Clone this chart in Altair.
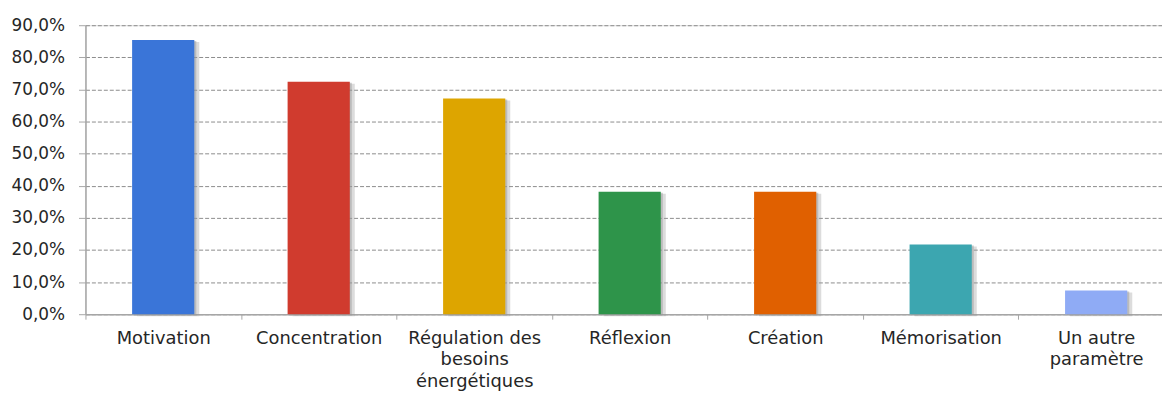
import altair as alt
import pandas as pd

categories = ["Motivation", "Concentration", "Régulation des besoins énergétiques",
              "Réflexion", "Création", "Mémorisation", "Un autre paramètre"]
values = [0.854, 0.724, 0.672, 0.381, 0.381, 0.217, 0.074]
colors = ["#3A75D8", "#D03B2E", "#DDA500", "#2E944A", "#E06000", "#3CA6B0", "#8FABF5"]
y_ticks = [0.0, 0.1, 0.2, 0.3, 0.4, 0.5, 0.6, 0.7, 0.8, 0.9]

df = pd.DataFrame({"cat": categories, "val": values, "col": colors})

label_expr = (
    "datum.label == 'Régulation des besoins énergétiques' ? ['Régulation des', 'besoins', 'énergétiques'] : "
    "datum.label == 'Un autre paramètre' ? ['Un autre', 'paramètre'] : datum.label"
)

x_enc = alt.X(
    "cat:N", sort=categories, title=None,
    scale=alt.Scale(range=[0, 1096], paddingInner=0, paddingOuter=0),
    axis=alt.Axis(
        labelAngle=0, labelFont="DejaVu Sans", labelFontSize=18, labelColor="#262626",
        labelExpr=label_expr, labelLineHeight=22, labelPadding=10, labelBaseline="top",
        tickBand="extent", tickSize=5, tickColor="#A6A6A6", domainColor="#A6A6A6",
        domainWidth=1.5, grid=False, labelLimit=300,
    ),
)
y_enc = alt.Y(
    "val:Q", title=None,
    scale=alt.Scale(domain=[0, 0.9], nice=False),
    axis=alt.Axis(
        values=y_ticks, labelExpr="replace(format(datum.value, '.1%'), '.', ',')",
        labelFont="DejaVu Sans", labelFontSize=17, labelColor="#262626",
        labelPadding=14, tickSize=7, tickColor="#A6A6A6", domainColor="#A6A6A6",
        domainWidth=1.5, grid=True, gridColor="#8C8C8C", gridDash=[4, 2], gridWidth=1,
    ),
)

base = alt.Chart(df)
shadow1 = base.mark_bar(width=alt.RelativeBandSize(0.4), color="#9A9A9A", opacity=0.35,
                        xOffset=5, yOffset=2).encode(x=x_enc, y=y_enc)
shadow2 = base.mark_bar(width=alt.RelativeBandSize(0.4), color="#9A9A9A", opacity=0.5,
                        xOffset=2, yOffset=1).encode(x=x_enc, y=y_enc)
bars = base.mark_bar(width=alt.RelativeBandSize(0.4)).encode(
    x=x_enc, y=y_enc, color=alt.Color("col:N", scale=None, legend=None)
)

chart = alt.layer(shadow1, shadow2, bars).properties(
    width=1084, height=291,
    autosize=alt.AutoSizeParams(type="none"),
    padding={"left": 78, "top": 16, "right": 0, "bottom": 78},
).configure_view(stroke=None).configure(background="white")

chart.save("out.html", embed_options={"renderer": "svg", "actions": False})
